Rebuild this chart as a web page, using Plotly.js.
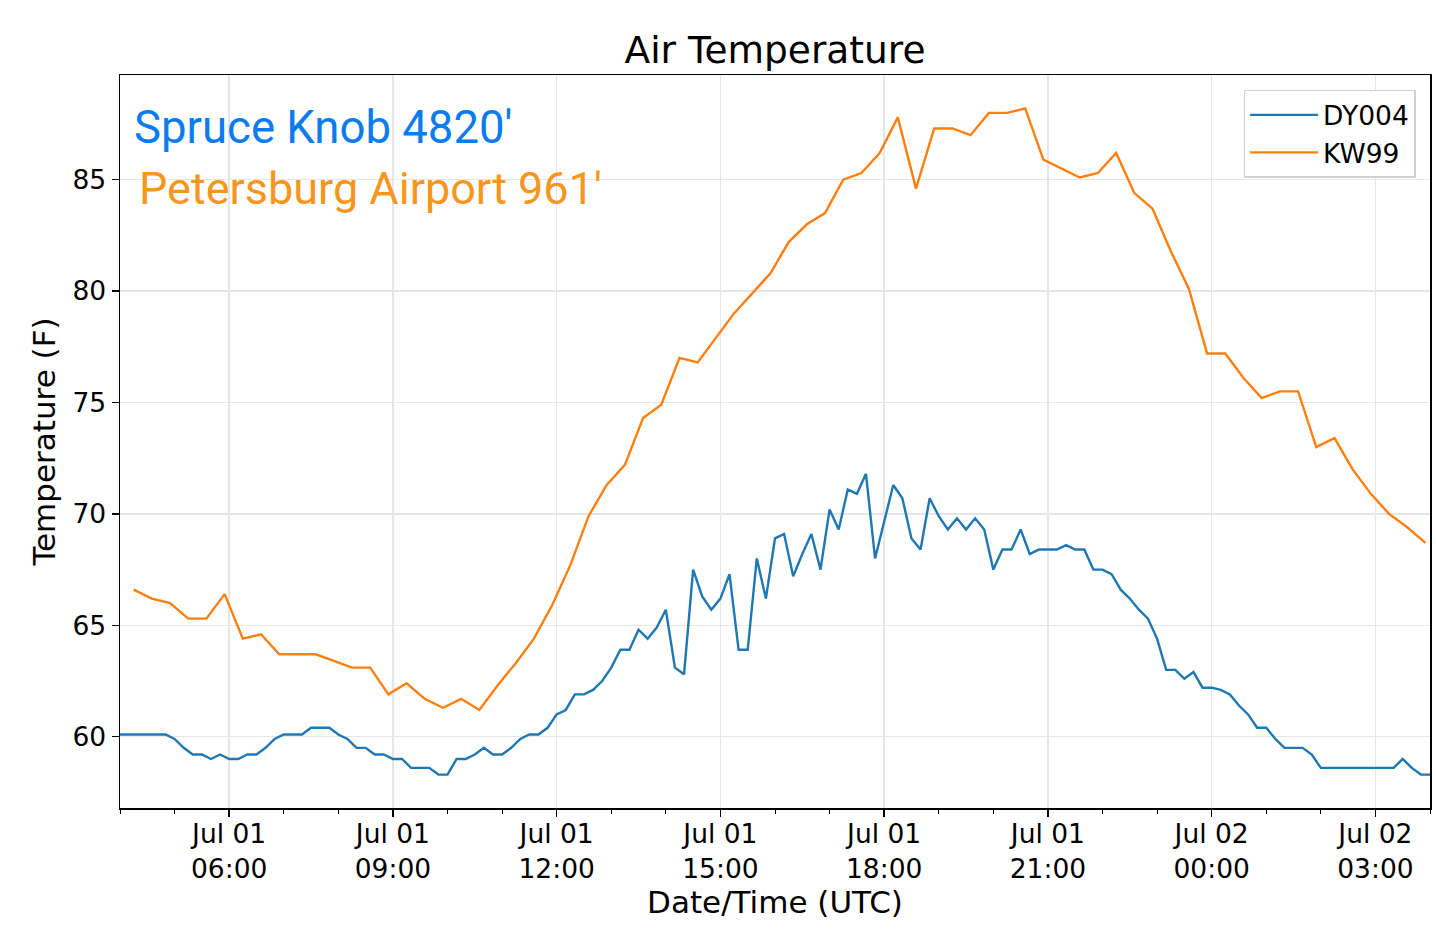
<!DOCTYPE html>
<html>
<head>
<meta charset="utf-8">
<script src="https://cdn.plot.ly/plotly-3.0.1.min.js"></script>
<style>
  html, body { margin: 0; padding: 0; background: #fff; }
  #graph { width: 1436px; height: 941px; }
</style>
</head>
<body>
<div id="graph"></div>
<script>
// DY004 (Spruce Knob) - every 10 min from Jul 01 04:00 UTC
var dyStart = '2019-07-01T04:00:00Z';
var dyStepMin = 10;
var dyTemp = [
  60.1, 60.1, 60.1, 60.1, 60.1, 60.1, 59.9, 59.5, 59.2, 59.2,
  59.0, 59.2, 59.0, 59.0, 59.2, 59.2, 59.5, 59.9, 60.1, 60.1,
  60.1, 60.4, 60.4, 60.4, 60.1, 59.9, 59.5, 59.5, 59.2, 59.2,
  59.0, 59.0, 58.6, 58.6, 58.6, 58.3, 58.3, 59.0, 59.0, 59.2,
  59.5, 59.2, 59.2, 59.5, 59.9, 60.1, 60.1, 60.4, 61.0, 61.2,
  61.9, 61.9, 62.1, 62.5, 63.1, 63.9, 63.9, 64.8, 64.4, 64.9,
  65.7, 63.1, 62.8, 67.5, 66.3, 65.7, 66.2, 67.3, 63.9, 63.9,
  68.0, 66.2, 68.9, 69.1, 67.2, 68.2, 69.1, 67.5, 70.2, 69.3,
  71.1, 70.9, 71.8, 68.0, 69.6, 71.3, 70.7, 68.9, 68.4, 70.7,
  69.9, 69.3, 69.8, 69.3, 69.8, 69.3, 67.5, 68.4, 68.4, 69.3,
  68.2, 68.4, 68.4, 68.4, 68.6, 68.4, 68.4, 67.5, 67.5, 67.3,
  66.6, 66.2, 65.7, 65.3, 64.4, 63.0, 63.0, 62.6, 62.9, 62.2,
  62.2, 62.1, 61.9, 61.4, 61.0, 60.4, 60.4, 59.9, 59.5, 59.5,
  59.5, 59.2, 58.6, 58.6, 58.6, 58.6, 58.6, 58.6, 58.6, 58.6,
  58.6, 59.0, 58.6, 58.3, 58.3
];

// KW99 (Petersburg Airport) - every 20 min from Jul 01 04:15 UTC
var kwStart = '2019-07-01T04:15:00Z';
var kwStepMin = 20;
var kwTemp = [
  66.6, 66.2, 66.0, 65.3, 65.3, 66.4, 64.4, 64.6, 63.7, 63.7,
  63.7, 63.4, 63.1, 63.1, 61.9, 62.4, 61.7, 61.3, 61.7, 61.2,
  62.3, 63.3, 64.4, 65.9, 67.7, 69.9, 71.3, 72.2, 74.3, 74.9,
  77.0, 76.8, 77.9, 79.0, 79.9, 80.8, 82.2, 83.0, 83.5, 85.0,
  85.3, 86.2, 87.8, 84.6, 87.3, 87.3, 87.0, 88.0, 88.0, 88.2,
  85.9, 85.5, 85.1, 85.3, 86.2, 84.4, 83.7, 81.8, 80.1, 77.2,
  77.2, 76.1, 75.2, 75.5, 75.5, 73.0, 73.4, 72.0, 70.9, 70.0,
  69.4, 68.7
];

var tickVals = ['2019-07-01 06:00', '2019-07-01 09:00', '2019-07-01 12:00', '2019-07-01 15:00',
                '2019-07-01 18:00', '2019-07-01 21:00', '2019-07-02 00:00', '2019-07-02 03:00'];
var tickText = ['Jul 01<br>06:00', 'Jul 01<br>09:00', 'Jul 01<br>12:00', 'Jul 01<br>15:00',
                'Jul 01<br>18:00', 'Jul 01<br>21:00', 'Jul 02<br>00:00', 'Jul 02<br>03:00'];
var yTicks = [60, 65, 70, 75, 80, 85];

// time stamps for a regularly sampled station
function makeTimes(start, stepMin, n) {
  var t0 = new Date(start).getTime();
  var out = [];
  for (var i = 0; i < n; i++) {
    out.push(new Date(t0 + i * stepMin * 60000).toISOString().slice(0, 16).replace('T', ' '));
  }
  return out;
}

var dyTimes = makeTimes(dyStart, dyStepMin, dyTemp.length);
var kwTimes = makeTimes(kwStart, kwStepMin, kwTemp.length);

var font = 'DejaVu Sans, sans-serif';

var traceDY = {
  x: dyTimes, y: dyTemp, type: 'scatter', mode: 'lines', name: 'DY004',
  line: { color: '#1f77b4', width: 2.4 }
};
var traceKW = {
  x: kwTimes, y: kwTemp, type: 'scatter', mode: 'lines', name: 'KW99',
  line: { color: '#ff7f0e', width: 2.4 }
};

var layout = {
  width: 1436, height: 941,
  margin: { l: 120, r: 6, t: 75, b: 133 },
  paper_bgcolor: '#fff', plot_bgcolor: '#fff',
  font: { family: font, color: '#000', size: 26.5 },
  title: {
    text: 'Air Temperature', font: { family: font, size: 37.5, color: '#000' },
    xref: 'paper', x: 0.5, xanchor: 'center', yref: 'container', y: 0.947, yanchor: 'middle'
  },
  xaxis: {
    type: 'date',
    range: [dyTimes[0], dyTimes[dyTimes.length - 1]],
    tickmode: 'array', tickvals: tickVals, ticktext: tickText,
    ticks: 'outside', ticklen: 7, tickwidth: 1.5, tickcolor: '#000',
    ticklabelstandoff: -5,
    showline: true, linecolor: '#000', linewidth: 1.5, mirror: true,
    showgrid: true, gridcolor: '#e6e6e6', gridwidth: 1.5,
    zeroline: false,
    tickfont: { family: font, size: 26.5, color: '#000' },
    minor: { tickmode: 'linear', tick0: '2019-07-01 04:00', dtick: 3600000,
             ticks: 'outside', ticklen: 4, tickwidth: 1, tickcolor: '#000', showgrid: false },
    title: { text: 'Date/Time (UTC)', font: { family: font, size: 31, color: '#000' }, standoff: 0 }
  },
  yaxis: {
    range: [56.8, 89.7],
    tickmode: 'array', tickvals: yTicks,
    ticks: 'outside', ticklen: 7, tickwidth: 1.5, tickcolor: '#000',
    showline: true, linecolor: '#000', linewidth: 1.5, mirror: true,
    showgrid: true, gridcolor: '#e6e6e6', gridwidth: 1.5,
    zeroline: false,
    tickfont: { family: font, size: 26.5, color: '#000' },
    title: { text: 'Temperature (F)', font: { family: font, size: 31, color: '#000' }, standoff: 7 }
  },
  showlegend: true,
  legend: {
    x: 0.989, xanchor: 'right', y: 0.98, yanchor: 'top',
    bgcolor: '#fff', bordercolor: '#d0d0d0', borderwidth: 1.5,
    itemwidth: 68,
    font: { family: font, size: 26.5, color: '#000' }
  },
  annotations: [
    { text: "Spruce Knob 4820'", xref: 'paper', yref: 'paper', x: 0.009, y: 0.928,
      xanchor: 'left', yanchor: 'middle', showarrow: false,
      font: { family: 'Roboto, sans-serif', size: 45.5, color: '#0a7cf0' } },
    { text: "Petersburg Airport 961'", xref: 'paper', yref: 'paper', x: 0.013, y: 0.845,
      xanchor: 'left', yanchor: 'middle', showarrow: false,
      font: { family: 'Roboto, sans-serif', size: 45, color: '#f7961e' } }
  ]
};

Plotly.newPlot('graph', [traceDY, traceKW], layout, { displayModeBar: false, staticPlot: true });
</script>
</body>
</html>
